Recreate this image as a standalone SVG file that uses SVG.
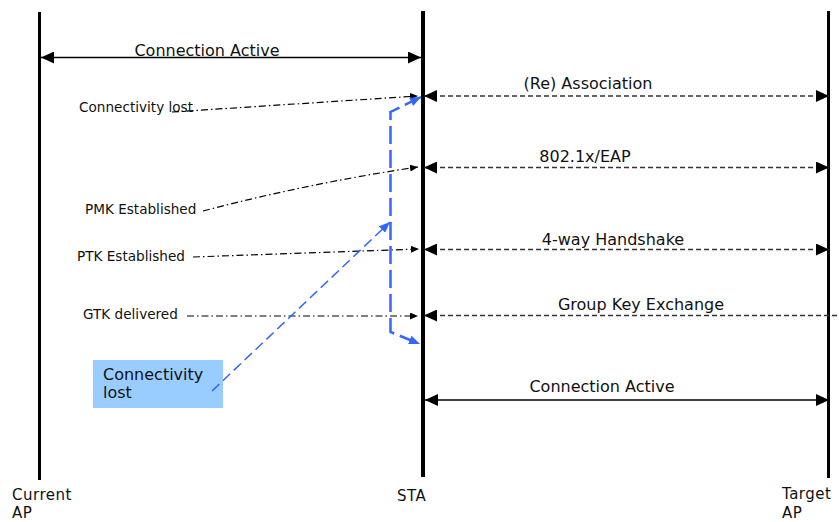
<svg xmlns="http://www.w3.org/2000/svg" width="839" height="522" viewBox="0 0 839 522">
<style>
text{font-family:"DejaVu Sans","Liberation Sans",sans-serif;fill:#111}
.lbl{font-size:16px}
.foot{font-size:15px;letter-spacing:0.5px}
.small{font-size:13.6px}
.life{stroke:#000;fill:none}
.solid{stroke:#000;stroke-width:1.5;fill:none}
.dash{stroke:#333;stroke-width:1.5;stroke-dasharray:5 3;fill:none}
.dd{stroke:#000;stroke-width:1.2;stroke-dasharray:7 3 1.5 3;fill:none}
.blue{stroke:#3366FF;stroke-width:2.5;stroke-dasharray:18 6;fill:none}
.blue2{stroke:#3366FF;stroke-width:1.5;stroke-dasharray:10 5;fill:none}
</style>
<defs>
<marker id="big" markerUnits="userSpaceOnUse" markerWidth="13" markerHeight="12" refX="13" refY="6" orient="auto-start-reverse"><path d="M0,0 L13,6 L0,12 Z" fill="#000"/></marker>
<marker id="sm" markerUnits="userSpaceOnUse" markerWidth="8" markerHeight="7" refX="8" refY="3.5" orient="auto"><path d="M0,0 L8,3.5 L0,7 Z" fill="#000"/></marker>
<marker id="bl" markerUnits="userSpaceOnUse" markerWidth="11" markerHeight="9" refX="11" refY="4.5" orient="auto-start-reverse"><path d="M0,0 L11,4.5 L0,9 Z" fill="#3366FF"/></marker>
</defs>
<g id="current-ap">
<line class="life" x1="39.5" y1="12" x2="39.5" y2="480" stroke-width="3"/>
<text class="foot" x="12" y="500">Current</text>
<text class="foot" x="12" y="518">AP</text>
</g>
<g id="sta">
<line class="life" x1="423" y1="11" x2="423" y2="477" stroke-width="4"/>
<text class="foot" x="397" y="501">STA</text>
</g>
<g id="target-ap">
<line class="life" x1="828.5" y1="11" x2="828.5" y2="478" stroke-width="3"/>
<text class="foot" x="782" y="499">Target</text>
<text class="foot" x="782" y="517.5">AP</text>
</g>
<g id="note-box">
<rect x="93" y="360" width="130" height="48" fill="#99CCFF"/>
<text class="lbl" x="103" y="380">Connectivity</text>
<text class="lbl" x="103" y="398">lost</text>
</g>
<g id="events">
<text class="small" x="79" y="112">Connectivity lost</text>
<text class="small" x="85" y="214">PMK Established</text>
<text class="small" x="77" y="261">PTK Established</text>
<text class="small" x="83" y="319">GTK delivered</text>
</g>
<g id="connectors">
<line class="solid" x1="41" y1="57.5" x2="421" y2="57.5" marker-start="url(#big)" marker-end="url(#big)"/>
<text class="lbl" x="207" y="56" text-anchor="middle">Connection Active</text>
<line class="dash" x1="424" y1="96" x2="829" y2="96" marker-start="url(#big)" marker-end="url(#big)"/>
<text class="lbl" x="588" y="89" text-anchor="middle">(Re) Association</text>
<line class="dash" x1="424" y1="167.5" x2="829" y2="167.5" marker-start="url(#big)" marker-end="url(#big)"/>
<text class="lbl" x="585" y="162" text-anchor="middle">802.1x/EAP</text>
<line class="dash" x1="424" y1="249.5" x2="829" y2="249.5" marker-start="url(#big)" marker-end="url(#big)"/>
<text class="lbl" x="613" y="245" text-anchor="middle">4-way Handshake</text>
<line class="dash" x1="424" y1="315.5" x2="839" y2="315.5" marker-start="url(#big)"/>
<text class="lbl" x="641" y="310" text-anchor="middle">Group Key Exchange</text>
<line class="solid" x1="425" y1="400" x2="829" y2="400" marker-start="url(#big)" marker-end="url(#big)"/>
<text class="lbl" x="602" y="392" text-anchor="middle">Connection Active</text>
<path class="dd" d="M172,112 L418,96" marker-end="url(#sm)"/>
<path class="dd" d="M203,211 Q310,183 418,167" marker-end="url(#sm)"/>
<path class="dd" d="M193,257 L419,249" marker-end="url(#sm)"/>
<path class="dd" d="M187,316 L418,316" marker-end="url(#sm)"/>
<path class="blue" d="M421,97 L390.5,112 L390.5,332 L420,344" marker-start="url(#bl)" marker-end="url(#bl)"/>
<path class="blue2" d="M212,391 L390,222" marker-end="url(#bl)"/>
</g>
</svg>
